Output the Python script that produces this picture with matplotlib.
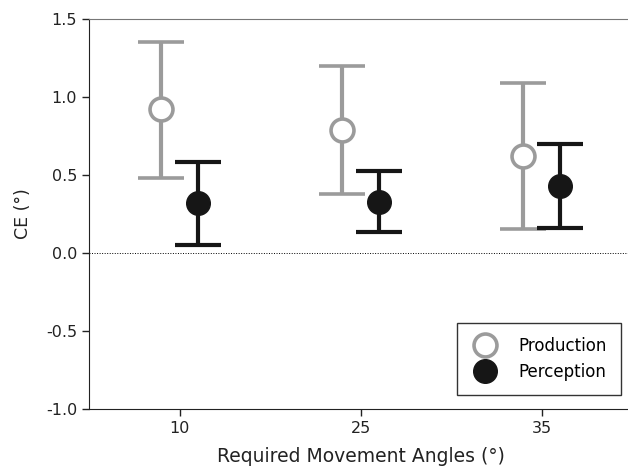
import matplotlib
matplotlib.use("Agg")
import matplotlib.pyplot as plt
import numpy as np

# data
angles = ["10", "25", "35"]
prod_mean = [0.92, 0.79, 0.62]
prod_upper = [1.35, 1.20, 1.09]
prod_lower = [0.48, 0.38, 0.155]
perc_mean = [0.32, 0.33, 0.43]
perc_upper = [0.585, 0.525, 0.70]
perc_lower = [0.05, 0.135, 0.16]

grey = "#9b9b9b"
black = "#161616"

fig = plt.figure(figsize=(6.28, 4.69), dpi=100)
ax = fig.add_axes([89 / 628, 60 / 469, 543 / 628, 390 / 469])

x = np.arange(len(angles))
off = 0.1

pm = np.array(prod_mean)
ax.errorbar(x - off, pm,
            yerr=[pm - np.array(prod_lower), np.array(prod_upper) - pm],
            fmt="o", color=grey, ecolor=grey, elinewidth=3, capthick=3,
            capsize=16.5, markersize=16.5, markerfacecolor="white",
            markeredgecolor=grey, markeredgewidth=2.6, label="Production")

qm = np.array(perc_mean)
ax.errorbar(x + off, qm,
            yerr=[qm - np.array(perc_lower), np.array(perc_upper) - qm],
            fmt="o", color=black, ecolor=black, elinewidth=3, capthick=3,
            capsize=16.5, markersize=17, markerfacecolor=black,
            markeredgecolor=black, label="Perception")

ax.axhline(0, color="black", lw=0.7, ls=(0, (1, 1.6)), zorder=0)

ax.set_xlim(-0.5, 2.5)
ax.set_ylim(-1.0, 1.5)
ax.set_xticks(x)
ax.set_xticklabels(angles)
ax.set_yticks([-1.0, -0.5, 0.0, 0.5, 1.0, 1.5])
ax.set_yticklabels(["-1.0", "-0.5", "0.0", "0.5", "1.0", "1.5"])
ax.tick_params(labelsize=11.5, colors="#222222", length=5, width=1)

for s in ["left", "bottom"]:
    ax.spines[s].set_color("#222222")
ax.spines["top"].set_color("#777777")
ax.spines["right"].set_visible(False)

ax.set_xlabel("Required Movement Angles (°)", fontsize=13.5, color="#222222", labelpad=8)
ax.set_ylabel("CE (°)", fontsize=12.5, color="#222222", labelpad=10)

# legend: markers only, no error bars
h1 = plt.Line2D([], [], ls="none", marker="o", markersize=16.5,
                markerfacecolor="white", markeredgecolor=grey, markeredgewidth=2.6)
h2 = plt.Line2D([], [], ls="none", marker="o", markersize=17,
                markerfacecolor=black, markeredgecolor=black)
leg = ax.legend([h1, h2], ["Production", "Perception"], loc="lower right",
                bbox_to_anchor=(540 / 543, 6 / 390), fontsize=12,
                frameon=True, fancybox=False, edgecolor="black",
                handletextpad=1.2, borderpad=0.85, labelspacing=0.45,
                handlelength=1.6)
leg.get_frame().set_linewidth(1.0)

fig.savefig("out.png", dpi=100)
